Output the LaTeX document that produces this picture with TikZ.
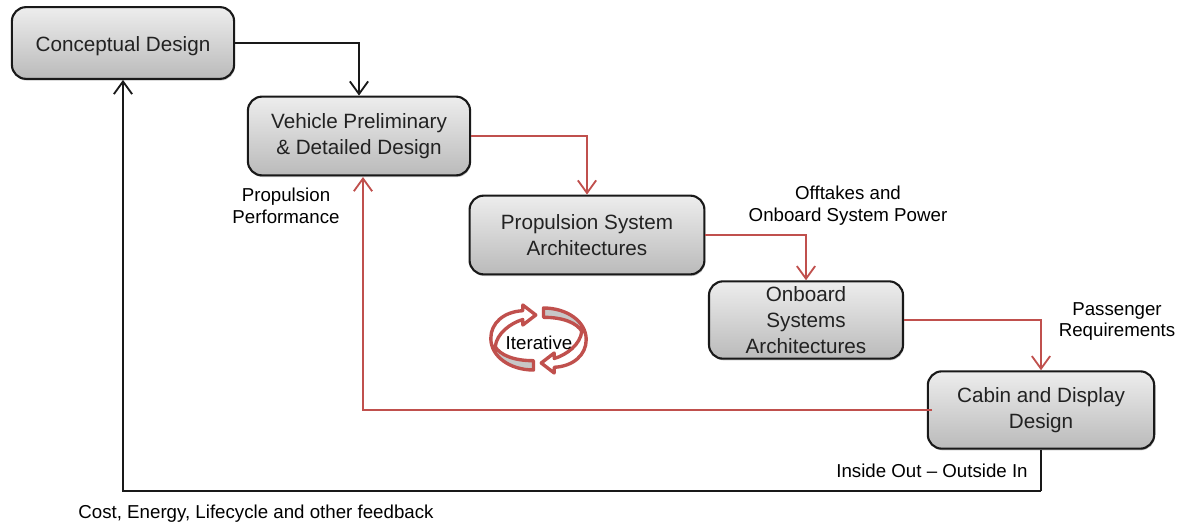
\documentclass[tikz,border=0pt]{standalone}
\usepackage{fontspec}
\setmainfont{Liberation Sans}
\usetikzlibrary{arrows.meta,shadows}
\definecolor{loopred}{HTML}{C0504D}
\definecolor{inktext}{HTML}{222222}
\tikzset{
    textdrop/.style={execute at begin node={\rule{0pt}{#1}}},
    stagebox/.style={draw=black!90, line width=1.5pt, rounded corners=10pt, align=center, text=inktext,
        font=\fontsize{14.7}{18.4}\selectfont, top color=black!7, bottom color=black!27,
        textdrop=15.7pt,
        drop shadow={shadow xshift=0.6pt, shadow yshift=-1.2pt, opacity=0.22, fill=black}},
    note/.style={align=center, text=black, font=\fontsize{13.3}{15.6}\selectfont, inner sep=0pt},
    blackflow/.style={draw=black!90, line width=1.5pt, -{Straight Barb[length=9pt,width=13pt,line width=1.3pt]}},
    redflow/.style={draw=loopred, line width=1.5pt, -{Straight Barb[length=9pt,width=13pt,line width=1.3pt]}},
    plainflow/.style={draw=black!90, line width=1.5pt},
    looppart/.style={draw=loopred, line width=2.4pt, line join=round}
}
\begin{document}
\begin{tikzpicture}[x=0.025cm, y=-0.025cm]
    \useasboundingbox (0,0) rectangle (1182,526);
    % stages
    \node[stagebox, textdrop=13.5pt, minimum width=158pt, minimum height=51pt] (concept) at (123,43) {Conceptual Design};
    \node[stagebox, minimum width=158pt, minimum height=56pt] (vehicle) at (359,136) {Vehicle Preliminary\\\& Detailed Design};
    \node[stagebox, minimum width=167pt, minimum height=56pt] (propulsion) at (587,235) {Propulsion System\\Architectures};
    \node[stagebox, minimum width=138pt, minimum height=55pt] (onboard) at (806,320) {Onboard\\Systems\\Architectures};
    \node[stagebox, minimum width=161pt, minimum height=55pt] (cabin) at (1041,410) {Cabin and Display\\Design};
    % free ends
    \coordinate (feedstart) at (932,410);
    \coordinate (feedend) at (363,177);
    \coordinate (lowcorner) at (1041,491);
    % flows
    \draw[blackflow] (concept.east) -| (vehicle.north);
    \draw[redflow] (vehicle.east) -| (propulsion.north);
    \draw[redflow] (propulsion.east) -| (onboard.north);
    \draw[redflow] (onboard.east) -| (cabin.north);
    \draw[redflow] (feedstart) -| (feedend);
    \draw[plainflow] (cabin.south) -- (lowcorner);
    \draw[blackflow] (lowcorner) -| (concept.south);
    % labels
    \node[note] (perf) at (286,206) {Propulsion\\Performance};
    \node[note] (offtakes) at (848,205.5) {Offtakes and\\Onboard System Power};
    \node[note] (passenger) at (1117,321.5) {Passenger\\Requirements};
    \node[note] (insideout) at (932,470.5) {Inside Out – Outside In};
    \node[note] (costs) at (256,513.5) {Cost, Energy, Lifecycle and other feedback};
    % iterative icon
    \foreach \turn in {0,180} {
        \begin{scope}[shift={(538.5,339)}, rotate=\turn]
            \fill[black!22] (-46,6) .. controls (-40,22) and (-25,31) .. (-5,31) -- (-5,21.7)
                .. controls (-25,21.7) and (-38.3,16) .. (-43.3,7.7) -- cycle;
            \draw[looppart] (-15.7,-28.3) .. controls (-35,-27.3) and (-47.7,-15.7) .. (-47.7,-0.7)
                .. controls (-47.7,17.7) and (-28.3,31) .. (-5,31) -- (-5,21.7)
                .. controls (-25,21.7) and (-38.3,16) .. (-43.3,7.7)
                .. controls (-41.7,-5.7) and (-28.3,-15.7) .. (-15.7,-19.5)
                -- (-15.7,-14) -- (-2.7,-24) -- (-15.7,-34) -- cycle;
        \end{scope}
    }
    \node[note] (iterative) at (539,343) {Iterative};
\end{tikzpicture}
\end{document}
